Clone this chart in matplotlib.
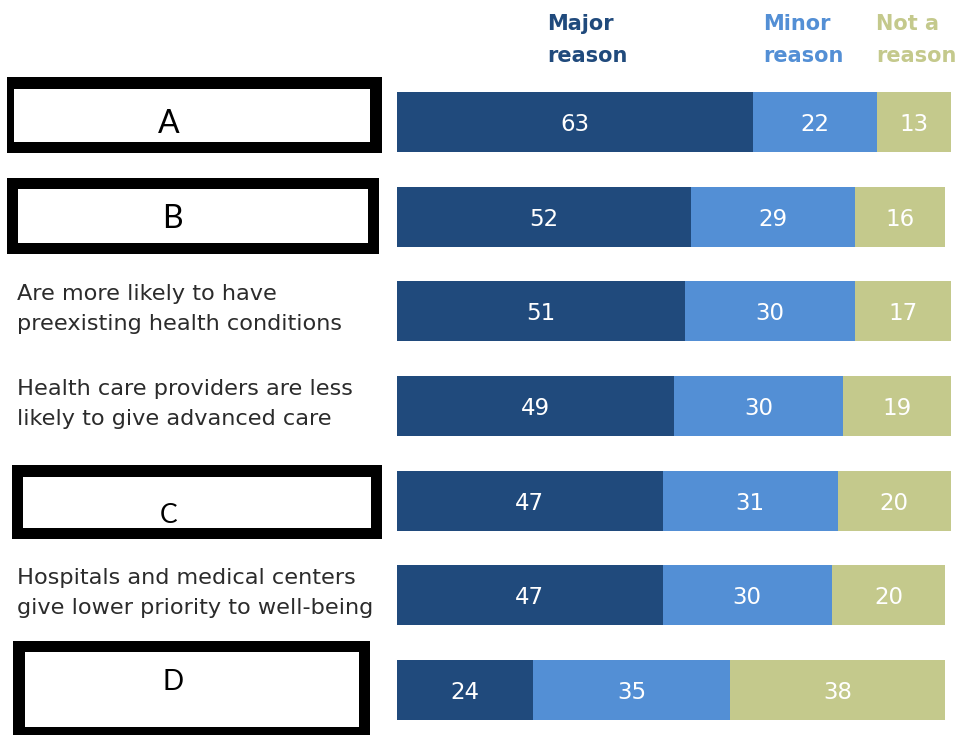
import matplotlib
matplotlib.use("Agg")
import matplotlib.pyplot as plt
from matplotlib.patches import Rectangle

# Survey responses (percent)
row_labels = [
    "A",
    "B",
    "Are more likely to have\npreexisting health conditions",
    "Health care providers are less\nlikely to give advanced care",
    "C",
    "Hospitals and medical centers\ngive lower priority to well-being",
    "D",
]
major = [63, 52, 51, 49, 47, 47, 24]
minor = [22, 29, 30, 30, 31, 30, 35]
not_reason = [13, 16, 17, 19, 20, 20, 38]
series_names = ["Major\nreason", "Minor\nreason", "Not a\nreason"]

c_major = "#204a7c"
c_minor = "#538fd5"
c_not = "#c4c98c"
colors = [c_major, c_minor, c_not]

W, H = 960, 735
fig = plt.figure(figsize=(W / 100, H / 100), dpi=100)
fig.patch.set_facecolor("white")

# pixel-space overlay for the left column and header
ov = fig.add_axes([0, 0, 1, 1])
ov.set_xlim(0, W)
ov.set_ylim(H, 0)
ov.axis("off")
ov.patch.set_visible(False)

# bar panel: rows are evenly spaced
x0_px, unit_px = 397, 5.65
row0_px, pitch_px = 122, 94.67
bar_h = 60 / pitch_px
ax = fig.add_axes([x0_px / W, 0, 98 * unit_px / W, 1])
ax.set_xlim(0, 98)
ax.set_ylim((H - row0_px) / pitch_px, -row0_px / pitch_px)
ax.axis("off")
ax.patch.set_visible(False)

rows = list(range(len(row_labels)))
left = [0] * len(rows)
for vals, col in zip([major, minor, not_reason], colors):
    ax.barh(rows, vals, left=left, height=bar_h, color=col,
            edgecolor="none")
    for r, v, l in zip(rows, vals, left):
        ax.text(l + v / 2, r + 9 / pitch_px, f"{v}", ha="center",
                va="baseline", color="white", fontsize=16.5,
                family="DejaVu Sans")
    left = [a + b for a, b in zip(left, vals)]

# header labels above the bars
head_x = [547, 763, 876]
for name, hx, col in zip(series_names, head_x, colors):
    l1, l2 = name.split("\n")
    ov.text(hx, 30, l1, ha="left", va="baseline", color=col,
            fontsize=15, fontweight="bold", family="DejaVu Sans")
    ov.text(hx, 62, l2, ha="left", va="baseline", color=col,
            fontsize=15, fontweight="bold", family="DejaVu Sans")

# boxed single-letter labels: outer frame, inner white, letter
boxes = {
    "A": ((7, 77, 382, 153), (14, 89, 370, 142), (169, 133), 23),
    "B": ((7, 178, 379, 254), (18, 189, 368, 243), (172, 228), 23),
    "C": ((12, 465, 382, 539), (23, 477, 371, 528), (169, 523), 19),
    "D": ((13, 641, 370, 745), (25, 652, 359, 727), (173, 690), 20),
}
for r, lab in zip(rows, row_labels):
    cy = row0_px + r * pitch_px
    if lab in boxes:
        (ox0, oy0, ox1, oy1), (ix0, iy0, ix1, iy1), (tx, ty), fs = boxes[lab]
        ov.add_patch(Rectangle((ox0, oy0), ox1 - ox0, oy1 - oy0,
                               facecolor="black", edgecolor="none"))
        ov.add_patch(Rectangle((ix0, iy0), ix1 - ix0, iy1 - iy0,
                               facecolor="white", edgecolor="none"))
        ov.text(tx, ty, lab, ha="center", va="baseline", color="black",
                fontsize=fs, family="Lato")
    else:
        l1, l2 = lab.split("\n")
        ov.text(17, cy - 11, l1, ha="left", va="baseline", color="#2b2b2b",
                fontsize=16.1, family="DejaVu Sans")
        ov.text(17, cy + 19, l2, ha="left", va="baseline", color="#2b2b2b",
                fontsize=16.1, family="DejaVu Sans")

fig.savefig("out.png", dpi=100, facecolor="white")
